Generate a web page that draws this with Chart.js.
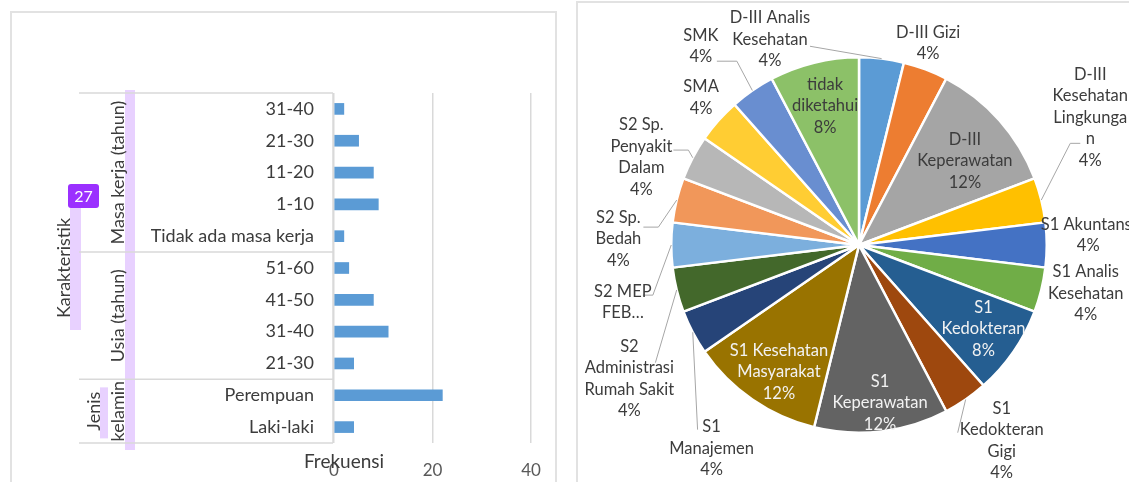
<!DOCTYPE html>
<html><head><meta charset="utf-8">
<script src="https://cdn.jsdelivr.net/npm/chart.js@4.4.1/dist/chart.umd.min.js"></script>
<style>
html,body{margin:0;padding:0;background:#fff;width:1129px;height:482px;overflow:hidden;font-family:Lato,sans-serif;}
#barWrap{position:absolute;left:0;top:0;width:566px;height:482px;}
#pieWrap{position:absolute;left:575px;top:0;width:554px;height:482px;}
.frame{position:absolute;border:2px solid #e2e2e2;box-sizing:border-box;}
</style></head><body>
<div class="frame" style="left:10px;top:11px;width:547px;height:520px"></div>
<div class="frame" style="left:576px;top:1px;width:600px;height:520px"></div>
<div id="barWrap"><canvas id="bar"></canvas></div>
<div id="pieWrap"><canvas id="pie"></canvas></div>
<script>
// ---------- DATA ----------
const barCategories = ["31-40","21-30","11-20","1-10","Tidak ada masa kerja","51-60","41-50","31-40","21-30","Perempuan","Laki-laki"];
const barValues = [2,5,8,9,2,3,8,11,4,22,4];
const barGroupNames = [["Masa kerja (tahun)"],["Usia (tahun)"],["Jenis","kelamin"]];
const barGroupSizes = [5,4,2];
const barAxisTitle = "Karakteristik";
const barValueTitle = "Frekuensi";
const xTickValues = [0,20,40];

const pieCategories = ["D-III Analis Kesehatan","D-III Gizi","D-III Keperawatan","D-III Kesehatan Lingkungan","S1 Akuntansi","S1 Analis Kesehatan","S1 Kedokteran","S1 Kedokteran Gigi","S1 Keperawatan","S1 Kesehatan Masyarakat","S1 Manajemen","S2 Administrasi Rumah Sakit","S2 MEP FEB\u2026","S2 Sp. Bedah","S2 Sp. Penyakit Dalam","SMA","SMK","tidak diketahui"];
const pieValues = [1,1,3,1,1,1,2,1,3,3,1,1,1,1,1,1,1,2];
const pieColors = ["#5B9BD5","#ED7D31","#A5A5A5","#FFC000","#4472C4","#70AD47","#255E91","#9E480E","#636363","#997300","#264478","#43682B","#7CAFDD","#F1975A","#B7B7B7","#FFCD33","#698ED0","#8CC168"];
const pieLabelLines = [["D-III Analis","Kesehatan"],["D-III Gizi"],["D-III","Keperawatan"],["D-III","Kesehatan","Lingkunga","n"],["S1 Akuntansi"],["S1 Analis","Kesehatan"],["S1","Kedokteran"],["S1","Kedokteran","Gigi"],["S1","Keperawatan"],["S1 Kesehatan","Masyarakat"],["S1","Manajemen"],["S2","Administrasi","Rumah Sakit"],["S2 MEP","FEB\u2026"],["S2 Sp.","Bedah"],["S2 Sp.","Penyakit","Dalam"],["SMA"],["SMK"],["tidak","diketahui"]];
const piePercentHidden = [false,false,false,false,false,false,false,false,false,false,false,false,true,false,false,false,false,false];

// ---------- LAYOUT / STYLE ----------
const DARK = "#3c3c3c", LIGHT = "#f2f2f2", GRID = "#d9d9d9";
// label placement: angle (deg, clockwise from 12 o'clock), distance (x radius), colour, leader end offset from label centre, elbow length
const pieLabelLayout = [
 {a:336.6,d:1.194,c:DARK,lead:[40,7],elbow:0},
 {a:18.9,d:1.136,c:DARK},
 {a:51.6,d:0.72,c:DARK},
 {a:61.1,d:1.407,c:DARK,lead:[-10,26],elbow:10},
 {a:87.5,d:1.222,c:DARK},
 {a:102.1,d:1.235,c:DARK},
 {a:124,d:0.80,c:LIGHT},
 {a:143.9,d:1.29,c:DARK,lead:[-44,-8],elbow:0},
 {a:172.4,d:0.848,c:LIGHT},
 {a:212.2,d:0.80,c:LIGHT},
 {a:215.9,d:1.339,c:DARK,lead:[-14,-19],elbow:0},
 {a:239.8,d:1.415,c:DARK,lead:[26,-16],elbow:0},
 {a:256.4,d:1.294,c:DARK,lead:[20,-7],elbow:10},
 {a:271.4,d:1.282,c:DARK,lead:[25,-12],elbow:15},
 {a:292,d:1.25,c:DARK,lead:[32,-7],elbow:15},
 {a:313,d:1.15,c:DARK},
 {a:321.5,d:1.353,c:DARK,lead:[16,15],elbow:20},
 {a:346.3,d:0.762,c:DARK}
];

const FONT = "Lato";

const groupAxisPlugin = {
  id: 'groupAxis',
  beforeDraw(chart){
    const ctx = chart.ctx, a = chart.chartArea;
    const n = barCategories.length, step = (a.bottom - a.top)/n;
    // highlight bands (annotation marks in the reference)
    ctx.save();
    ctx.fillStyle = 'rgba(204,153,255,0.45)';
    ctx.fillRect(125, a.top - 3, 10, a.bottom - a.top + 10);
    ctx.fillRect(70, 195, 11, 135);
    const gEnd2 = a.top + step*(barGroupSizes[0]+barGroupSizes[1]);
    ctx.fillRect(100, gEnd2 + 8, 8, 51);
    ctx.restore();
  },
  afterDraw(chart){
    const ctx = chart.ctx, a = chart.chartArea;
    const n = barCategories.length, step = (a.bottom - a.top)/n;
    const boxLeft = 79;
    ctx.save();
    ctx.strokeStyle = GRID; ctx.lineWidth = 1.5;
    ctx.beginPath();
    ctx.moveTo(a.left - 1, a.top); ctx.lineTo(a.left - 1, a.bottom);
    let idx = 0;
    const bounds = [a.top];
    barGroupSizes.forEach(s => { idx += s; bounds.push(a.top + idx*step); });
    bounds.forEach(y => { ctx.moveTo(boxLeft, y); ctx.lineTo(a.left - 1, y); });
    ctx.stroke();
    // group labels
    ctx.fillStyle = DARK;
    ctx.font = `18px ${FONT}`;
    ctx.textAlign = 'center'; ctx.textBaseline = 'middle';
    barGroupNames.forEach((lines, g) => {
      const cy = (bounds[g] + bounds[g+1]) / 2;
      const lh = 24;
      lines.forEach((t, i) => {
        const x = 118 - (lines.length - 1 - i) * lh;
        ctx.save(); ctx.translate(x, cy); ctx.rotate(-Math.PI/2); ctx.fillText(t, 0, 0); ctx.restore();
      });
    });
    // axis title
    ctx.save(); ctx.translate(64, (a.top + a.bottom)/2); ctx.rotate(-Math.PI/2);
    ctx.fillText(barAxisTitle, 0, 0); ctx.restore();
    ctx.font = `19px ${FONT}`;
    ctx.fillText(barValueTitle, a.left + 10, 462);
    // badge
    ctx.fillStyle = '#9B30FF';
    ctx.beginPath(); ctx.roundRect(68, 184, 31, 24, 3); ctx.fill();
    ctx.fillStyle = '#ffffff'; ctx.font = `16px ${FONT}`;
    ctx.fillText('27', 83.5, 196.5);
    ctx.restore();
  }
};

const pieLabelPlugin = {
  id: 'pieLabels',
  afterDatasetsDraw(chart){
    const ctx = chart.ctx;
    const meta = chart.getDatasetMeta(0);
    const total = pieValues.reduce((s,v)=>s+v,0);
    const lh = 21.5;
    ctx.save();
    ctx.font = `16.5px ${FONT}`;
    ctx.textAlign = 'center'; ctx.textBaseline = 'middle';
    meta.data.forEach((arc, i) => {
      const p = arc.getProps(['x','y','startAngle','endAngle','outerRadius'], true);
      const L = pieLabelLayout[i];
      const th = L.a * Math.PI/180;
      const lx = p.x + L.d * p.outerRadius * Math.sin(th);
      const ly = p.y - L.d * p.outerRadius * Math.cos(th);
      const lines = pieLabelLines[i].slice();
      if (!piePercentHidden[i]) lines.push(Math.round(pieValues[i]/total*100) + '%');
      if (L.lead){
        const mid = (p.startAngle + p.endAngle)/2;
        const sx = p.x + p.outerRadius * Math.cos(mid);
        const sy = p.y + p.outerRadius * Math.sin(mid);
        const ex = lx + L.lead[0], ey = ly + L.lead[1];
        ctx.strokeStyle = '#a6a6a6'; ctx.lineWidth = 1;
        ctx.beginPath(); ctx.moveTo(sx, sy);
        if (L.elbow){ const dir = sx > ex ? 1 : -1; ctx.lineTo(ex + dir*L.elbow, ey); }
        ctx.lineTo(ex, ey); ctx.stroke();
      }
      ctx.fillStyle = L.c;
      lines.forEach((t, k) => {
        ctx.fillText(t, lx, ly + (k - (lines.length-1)/2) * lh);
      });
    });
    ctx.restore();
  }
};

function build(){
  Chart.defaults.font.family = FONT;
  new Chart(document.getElementById('bar'), {
    type: 'bar',
    data: { labels: barCategories, datasets: [{ data: barValues, backgroundColor: '#5B9BD5', barThickness: 11 }] },
    options: {
      indexAxis: 'y', responsive: true, maintainAspectRatio: false, animation: false, devicePixelRatio: 1,
      layout: { padding: { top: 93, right: 35, bottom: 0, left: 0 } },
      plugins: { legend: { display: false }, tooltip: { enabled: false } },
      scales: {
        x: { min: 0, max: 40, afterFit(s){ s.height = 39; },
             afterBuildTicks(s){ s.ticks = xTickValues.map(v => ({value: v})); },
             grid: { color: GRID, lineWidth: 1.5, drawTicks: false },
             border: { display: false },
             ticks: { color: '#595959', font: { size: 17 }, padding: 17 } },
        y: { afterFit(s){ s.width = 334; },
             grid: { display: false, drawTicks: false }, border: { display: false },
             ticks: { color: DARK, font: { size: 18 }, padding: 20, autoSkip: false } }
      }
    },
    plugins: [groupAxisPlugin]
  });
  new Chart(document.getElementById('pie'), {
    type: 'pie',
    data: { labels: pieCategories, datasets: [{ data: pieValues, backgroundColor: pieColors, borderColor: '#ffffff', borderWidth: 2.5, hoverOffset: 0, offset: 0 }] },
    options: {
      responsive: true, maintainAspectRatio: false, animation: false, devicePixelRatio: 1,
      layout: { padding: { left: 95, top: 56, right: 81, bottom: 48 } },
      plugins: { legend: { display: false }, tooltip: { enabled: false } }
    },
    plugins: [pieLabelPlugin]
  });
}
(document.fonts && document.fonts.load ? Promise.all([document.fonts.load('16px Lato'), document.fonts.load('18px Lato')]) : Promise.resolve()).then(build, build);
</script>
</body></html>
